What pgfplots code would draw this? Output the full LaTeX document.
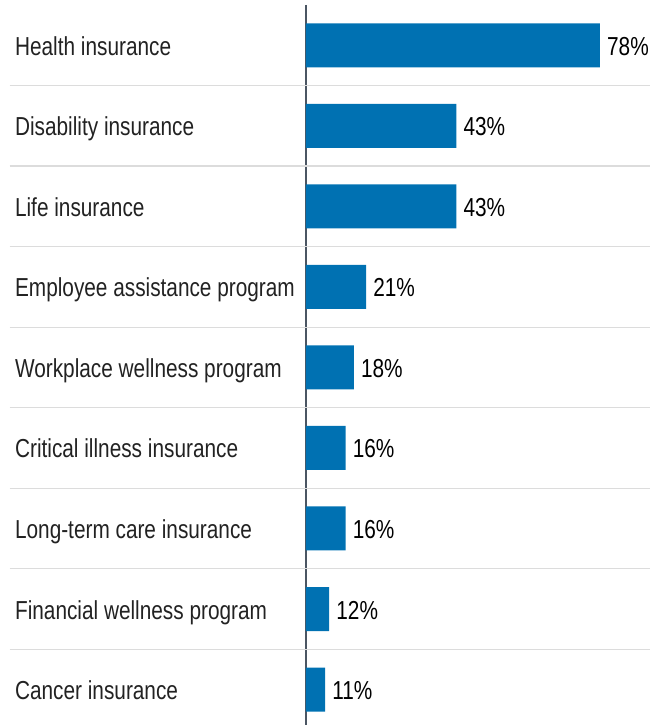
\documentclass[border=0pt]{standalone}
\usepackage{fontspec}
\setmainfont{Liberation Sans}[FakeStretch=0.8]
\usepackage{pgfplots}
\usepackage{pgfplotstable}
\pgfplotsset{compat=1.18}

\definecolor{barblue}{HTML}{0071B2}
\definecolor{axisgray}{HTML}{4B5663}
\definecolor{sepgray}{HTML}{DCDCDC}
\definecolor{labelgray}{HTML}{222222}

% share of respondents offered each benefit
\pgfplotstableread{
idx value
0 78
1 43
2 43
3 21
4 18
5 16
6 16
7 12
8 11
}\benefits

\begin{document}
\begin{tikzpicture}
\begin{axis}[
    at={(0,0)}, anchor=south west,
    scale only axis,
    width=344pt, height=720pt,
    xmin=6.34, xmax=90.2,
    ymin=-0.5, ymax=8.44,
    y dir=reverse,
    axis x line=none,
    axis y line=left,
    y axis line style={-, draw=axisgray, line width=1.8pt},
    ytick={0,...,8},
    yticklabels={Health insurance, Disability insurance, Life insurance,
        Employee assistance program, Workplace wellness program,
        Critical illness insurance, Long-term care insurance,
        Financial wellness program, Cancer insurance},
    ytick style={draw=none},
    yticklabel style={anchor=base west, inner xsep=0pt, xshift=-289pt,
        yshift=-10pt, font=\fontsize{26}{30}\selectfont, text=labelgray},
    clip mode=individual,
    /pgf/number format/assume math mode=true,
]
\pgfplotsinvokeforeach{0.5,1.5,2.5,3.5,4.5,5.5,6.5,7.5}{
    \draw[sepgray, line width=1.2pt] (axis cs:-65.9,#1) -- (axis cs:90.2,#1);
}
\addplot[xbar, fill=barblue, draw=none, bar width=44pt,
    nodes near coords={\pgfmathprintnumber{\pgfplotspointmeta}\%},
    nodes near coords style={anchor=base west, inner xsep=0pt, xshift=7pt,
        yshift=-10pt, font=\fontsize{26}{30}\selectfont, text=black},
    ] table[x=value, y=idx] {\benefits};
\end{axis}
\pgfresetboundingbox
\path (-306pt,0pt) rectangle (357pt,725pt);
\end{tikzpicture}
\end{document}
